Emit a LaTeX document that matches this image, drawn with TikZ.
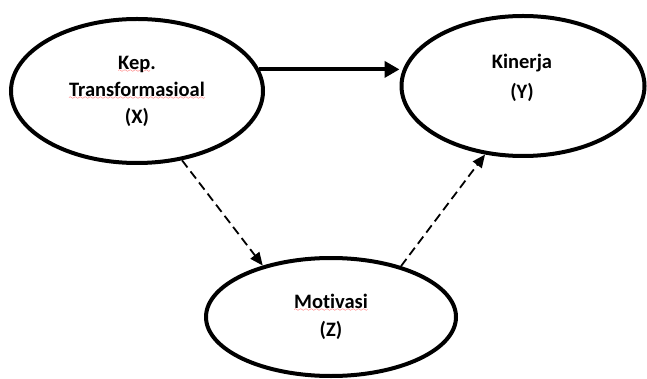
\documentclass[tikz,border=0pt]{standalone}
\usepackage{fontspec}
\setmainfont{Carlito}[Ligatures={NoCommon,NoContextual}]
\usetikzlibrary{arrows.meta,shapes.geometric}

\font\wavefont=lasy6
\newcommand\spellwave[1]{\setbox0\hbox{#1}\rlap{\lower3pt\hbox to\wd0{\color{red}\xleaders\hbox{\wavefont\char58}\hfill}}\box0}

\begin{document}
\begin{tikzpicture}[
    x=1pt, y=-1pt,
    varlabel/.style={align=center, font=\bfseries\fontsize{20.5}{27}\selectfont},
    var/.style={draw, ellipse, line width=4pt, inner sep=0pt, varlabel},
    direct/.style={line width=4pt, -{Triangle[length=15pt,width=16pt]}},
    indirect/.style={line width=1.8pt, dash pattern=on 9pt off 5pt, -{Triangle[length=13pt,width=11pt]}}
]
\useasboundingbox (0,0) rectangle (647,379);
\node[var, minimum width=252pt, minimum height=144pt] (X) at (137,91) {\spellwave{Kep}.\\\spellwave{Transformasioal}\\(X)};
\node[var, minimum width=243pt, minimum height=140pt] (Y) at (523,86) {};
\node[varlabel] (Ytext) at (522,78) {Kinerja\\[3pt](Y)};
\node[var, minimum width=250pt, minimum height=118pt] (Z) at (331,317) {\spellwave{Motivasi}\\[1pt](Z)};
\draw[direct] (X.10) -- (X.10 -| Y.west);
\draw[indirect] (X.303) -- (Z.143);
\draw[indirect] (Z.36) -- (Y.241);
\end{tikzpicture}
\end{document}
